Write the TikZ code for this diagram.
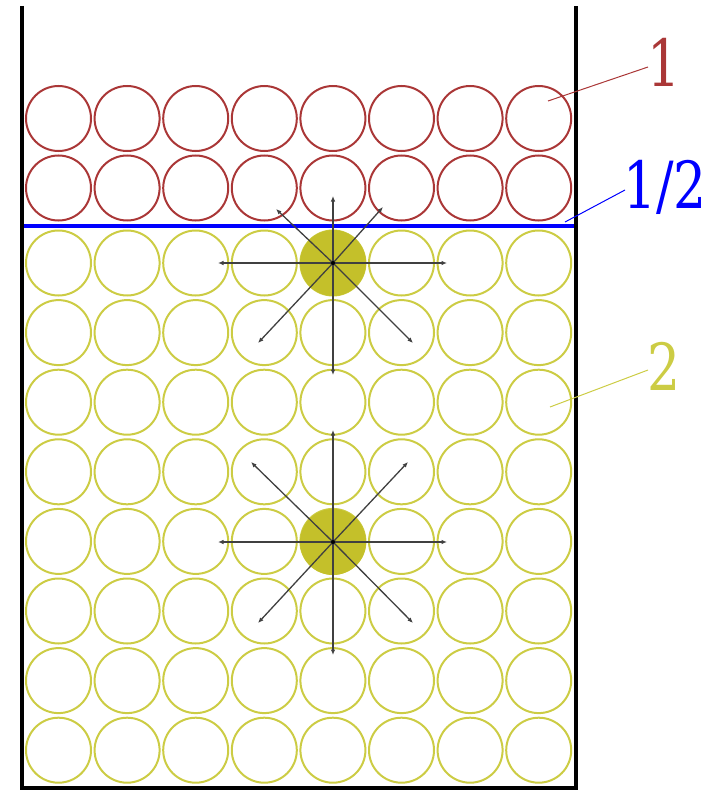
\documentclass[tikz,border=0pt]{standalone}
\usetikzlibrary{arrows.meta}
\usepackage{graphicx}
\usepackage{fontspec}
\newfontfamily\lblfont{DejaVu Serif}
\definecolor{cred}{RGB}{170,55,55}
\definecolor{cyel}{RGB}{204,204,68}
\definecolor{cfill}{RGB}{196,192,42}
\definecolor{cblue}{RGB}{0,0,255}
\begin{document}
\begin{tikzpicture}[x=1pt,y=-1pt,
  redball/.style={draw=cred,line width=2pt},
  yelball/.style={draw=cyel,line width=2pt},
  hotball/.style={fill=cfill},
  wall/.style={line width=4.5pt,black,line join=miter},
  arr/.style={line width=1.3pt,black!75,-{Latex[length=5.5pt,width=4.5pt]}},
  lbl/.style={inner sep=0pt,font=\lblfont\fontsize{65}{65}\selectfont},
  leader/.style={line width=1pt}]
\useasboundingbox (0,0) rectangle (714,792);
% yellow balls
\foreach \i in {0,...,7}{
  \foreach \j in {0,...,7}{
    \draw[yelball] (58.5+68.6*\i, 263+69.6*\j) circle [radius=32.5pt];
  }
}
% red balls
\foreach \i in {0,...,7}{
  \foreach \j in {0,1}{
    \draw[redball] (58.5+68.6*\i, 118.5+69.5*\j) circle [radius=32.5pt];
  }
}
% hot balls
\coordinate (s1) at (333,263);
\coordinate (s2) at (333,542);
\fill[hotball] (s1) circle [radius=33pt];
\fill[hotball] (s2) circle [radius=33pt];
% boundary line
\coordinate (bl) at (22,226);
\coordinate (br) at (576,226);
\draw[cblue,line width=4pt] (bl) -- (br);
% arrows star 1
\foreach \d in {(0,-67),(-57,-54),(50,-56),(-115,0),(114,0),(-75,80),(80,80),(0,112)}{
  \draw[arr] (s1) -- ++\d;
}
% arrows star 2
\foreach \d in {(0,-112),(-82,-80),(75,-80),(-115,0),(114,0),(-75,81),(80,81),(0,113)}{
  \draw[arr] (s2) -- ++\d;
}
\fill[black] (s1) circle [radius=2pt];
\fill[black] (s2) circle [radius=2pt];
% container
\coordinate (wtl) at (22,6);
\coordinate (wbl) at (22,788);
\coordinate (wbr) at (576,788);
\coordinate (wtr) at (576,6);
\draw[wall] (wtl) -- (wbl) -- (wbr) -- (wtr);
% labels
\node[lbl,text=cred] (l1) at (664,62) {\scalebox{0.8}[1]{1}};
\node[lbl,text=cblue] (l12) at (665,187) {\scalebox{0.8}[1]{1/2}};
\node[lbl,text=cyel] (l2) at (664,366) {\scalebox{0.8}[1]{2}};
\coordinate (p1) at (548,101);
\coordinate (p12) at (565,222);
\coordinate (p2) at (550,407);
\draw[leader,cred] (p1) -- (648,67);
\draw[leader,cblue] (p12) -- (625,190);
\draw[leader,cyel] (p2) -- (648,370);
\end{tikzpicture}
\end{document}
